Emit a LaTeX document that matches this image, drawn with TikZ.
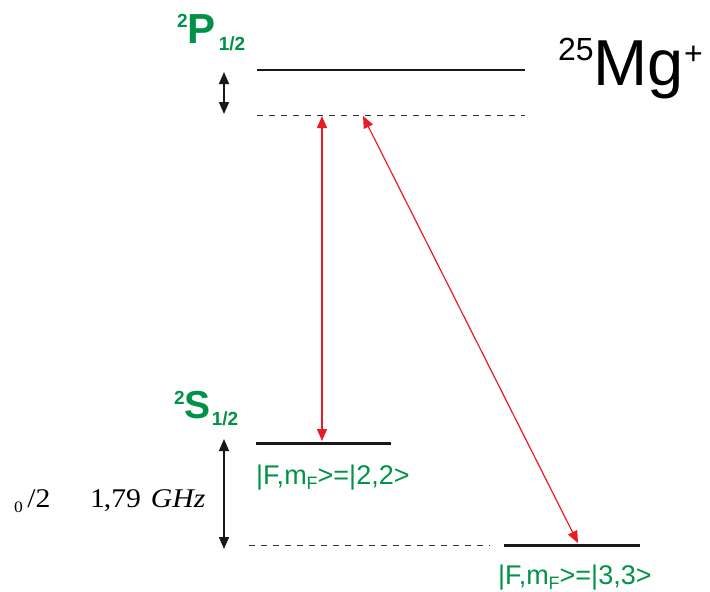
\documentclass[tikz,border=0pt]{standalone}
\usepackage{fontspec}
\setmainfont{Liberation Sans}
\newfontfamily\timesf{Liberation Serif}
\usetikzlibrary{arrows.meta}
\definecolor{lvgreen}{RGB}{0,146,72}
\definecolor{lvred}{RGB}{232,28,36}
\tikzset{
  level/.style={draw=black!90, line width=1.5pt},
  thicklevel/.style={draw=black!90, line width=3pt},
  virt/.style={draw=black!80, line width=0.8pt, dash pattern=on 6pt off 6pt},
  splitarrow/.style={draw=black!90, line width=1.4pt, {Triangle[length=12pt,width=10pt]}-{Triangle[length=12pt,width=10pt]}},
  laser/.style={draw=lvred, line width=1.2pt, {Triangle[length=12pt,width=10pt]}-{Triangle[length=12pt,width=10pt]}},
  termlbl/.style={text=lvgreen, font=\bfseries, inner sep=0pt, anchor=base west},
  statelbl/.style={text=lvgreen, inner sep=0pt, anchor=base west, font=\fontsize{27}{27}\selectfont},
}
\begin{document}
\begin{tikzpicture}[x=1pt,y=-1pt]
\useasboundingbox (0,0) rectangle (710,592);
% levels
\coordinate (pL) at (257,70);  \coordinate (pR) at (525,70);
\coordinate (vL) at (257,115); \coordinate (vR) at (525,115);
\coordinate (sL) at (256,443); \coordinate (sR) at (391,443);
\coordinate (dL) at (249,545); \coordinate (dR) at (490,545);
\coordinate (tL) at (504,545); \coordinate (tR) at (640,545);
\draw[level] (pL) -- (pR);
\draw[virt] (vL) -- (vR);
\draw[thicklevel] (sL) -- (sR);
\draw[virt] (dL) -- (dR);
\draw[thicklevel] (tL) -- (tR);
% splitting arrows
\coordinate (a1t) at (224,72); \coordinate (a1b) at (224,114);
\coordinate (a2t) at (224,439); \coordinate (a2b) at (224,549);
\draw[splitarrow] (a1t) -- (a1b);
\draw[splitarrow] (a2t) -- (a2b);
% laser arrows
\coordinate (r1t) at (322,116); \coordinate (r1b) at (322,441);
\coordinate (r2t) at (363,116); \coordinate (r2b) at (578,543);
\draw[laser] (r1t) -- (r1b);
\draw[laser] (r2t) -- (r2b);
% labels
\node[termlbl] (Plbl) at (177,43) {\fontsize{19}{19}\selectfont\raisebox{16pt}{2}\fontsize{42}{42}\selectfont P\kern3pt\fontsize{19}{19}\selectfont\raisebox{-7pt}{1/2}};
\node[termlbl] (Slbl) at (174,418) {\fontsize{19}{19}\selectfont\raisebox{14pt}{2}\fontsize{39}{39}\selectfont S\kern1pt\fontsize{19}{19}\selectfont\raisebox{-7pt}{1/2}};
\node[inner sep=0pt, anchor=base west] (ion) at (558,85) {\fontsize{32}{32}\selectfont\raisebox{25pt}{25}\fontsize{65}{65}\selectfont Mg\fontsize{32}{32}\selectfont\raisebox{21pt}{+}};
\node[statelbl] (s22) at (256,484) {|F,m\raisebox{-5pt}{\fontsize{18}{18}\selectfont F}>=|2,2>};
\node[statelbl] (s33) at (498,584) {|F,m\raisebox{-5pt}{\fontsize{18}{18}\selectfont F}>=|3,3>};
\node[inner sep=0pt, anchor=base west, font=\timesf\fontsize{27}{27}\selectfont] (freq) at (14,507) {\scalebox{1.1}[1]{\raisebox{-5pt}{\fontsize{16}{16}\selectfont 0}\kern4pt/2\hspace{36pt}1\kern-1pt,79\hspace{9pt}\textit{GHz}}};
\end{tikzpicture}
\end{document}
